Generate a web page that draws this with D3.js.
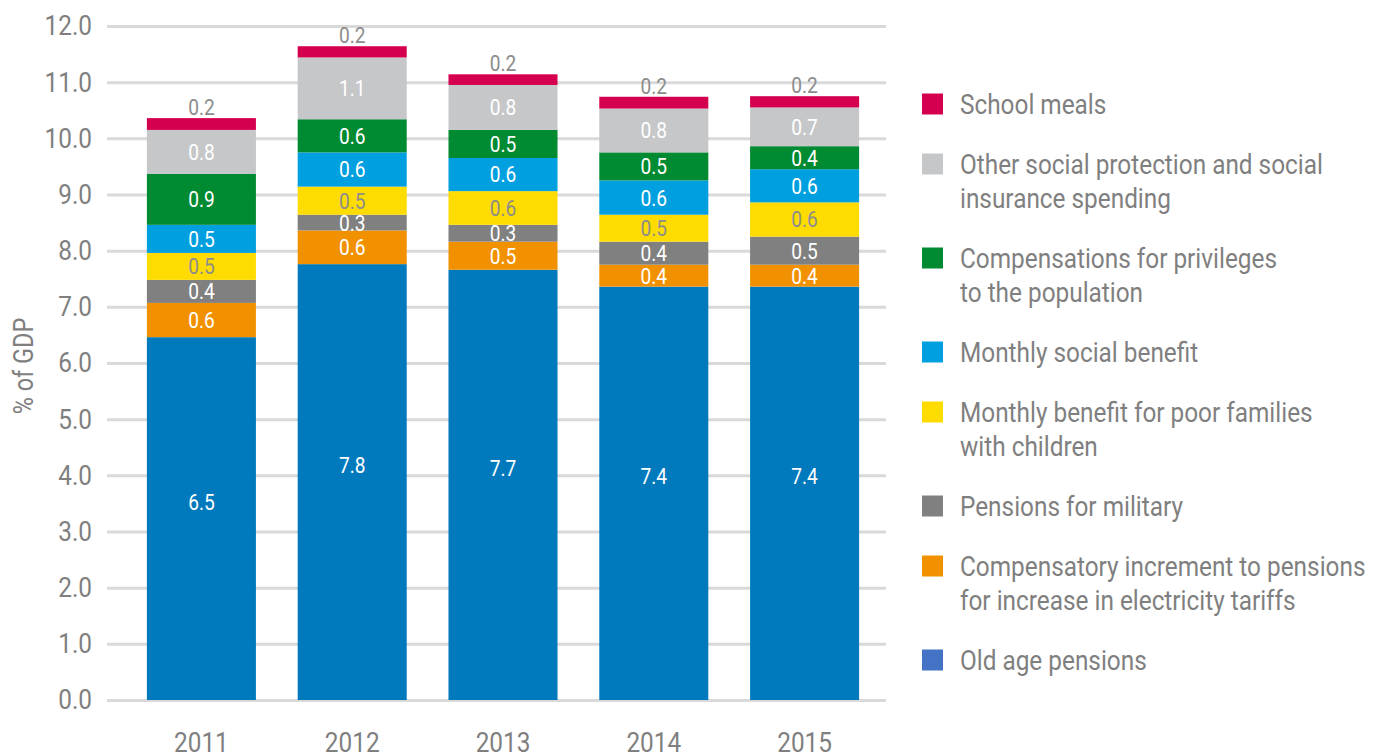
<!DOCTYPE html>
<html>
<head>
<meta charset="utf-8">
<script src="https://cdn.jsdelivr.net/npm/d3@7"></script>
<style>
  body { margin: 0; background: #fff; }
  svg text { font-family: Roboto, "Noto Sans", sans-serif; font-weight: 400; }
</style>
</head>
<body>
<div id="chart"></div>
<script>
// categories
var years = ["2011", "2012", "2013", "2014", "2015"];

// series values, % of GDP (bottom of the stack first)
var oldAge        = [6.46, 7.76, 7.66, 7.36, 7.36];
var compIncrement = [0.61, 0.60, 0.50, 0.39, 0.39];
var military      = [0.41, 0.28, 0.30, 0.41, 0.50];
var poorFamilies  = [0.48, 0.50, 0.60, 0.48, 0.61];
var socialBenefit = [0.50, 0.61, 0.59, 0.61, 0.59];
var privileges    = [0.91, 0.59, 0.50, 0.50, 0.41];
var otherSocial   = [0.78, 1.10, 0.80, 0.78, 0.69];
var schoolMeals   = [0.21, 0.20, 0.19, 0.21, 0.20];

var yTicks = [0, 1, 2, 3, 4, 5, 6, 7, 8, 9, 10, 11, 12];

var series = [
  {key: "oldAge", name: ["Old age pensions"], values: oldAge, color: "#0079BD", swatch: "#4472C4", text: "#fff"},
  {key: "compIncrement", name: ["Compensatory increment to pensions", "for increase in electricity tariffs"], values: compIncrement, color: "#F29100", text: "#fff"},
  {key: "military", name: ["Pensions for military"], values: military, color: "#808080", text: "#fff"},
  {key: "poorFamilies", name: ["Monthly benefit for poor families", "with children"], values: poorFamilies, color: "#FFDC00", text: "#8c8c8c"},
  {key: "socialBenefit", name: ["Monthly social benefit"], values: socialBenefit, color: "#009FE0", text: "#fff"},
  {key: "privileges", name: ["Compensations for privileges", "to the population"], values: privileges, color: "#008A32", text: "#fff"},
  {key: "otherSocial", name: ["Other social protection and social", "insurance spending"], values: otherSocial, color: "#C6C7C9", text: "#fff"},
  {key: "schoolMeals", name: ["School meals"], values: schoolMeals, color: "#D4004F", text: "#8c8c8c"}
];

// build rows for d3.stack
var rows = years.map(function(y, i) {
  var r = {year: y};
  series.forEach(function(s) { r[s.key] = s.values[i]; });
  return r;
});

var width = 1374, height = 756;
var gridLeft = 107, gridRight = 886;
var narrowK = 0.87; // the original uses a condensed face

// squeeze text horizontally around its anchor
function narrow(sel) {
  sel.each(function() {
    var t = d3.select(this);
    var tx = +t.attr("x") || 0, ty = +t.attr("y") || 0;
    t.attr("x", 0).attr("y", 0)
      .attr("transform", "translate(" + tx + "," + ty + ") scale(" + narrowK + ",1)");
  });
}

var svg = d3.select("#chart").append("svg")
  .attr("width", width)
  .attr("height", height);

var x = d3.scaleBand()
  .domain(years)
  .range([126, 880])
  .paddingInner(0.277)
  .paddingOuter(0.1385);

var y = d3.scaleLinear()
  .domain([0, 12])
  .range([700, 26]);

// y axis + gridlines
var yAxis = d3.axisLeft(y)
  .tickValues(yTicks)
  .tickSize(-(gridRight - gridLeft))
  .tickPadding(15)
  .tickFormat(d3.format(".1f"));

var yg = svg.append("g")
  .attr("transform", "translate(" + gridLeft + ",0)")
  .call(yAxis);
yg.select(".domain").remove();
yg.selectAll(".tick line").attr("stroke", "#D9D9D9").attr("stroke-width", 3);
yg.selectAll(".tick text").attr("fill", "#7F7F7F").style("font-size", "28px").call(narrow);

// x axis
var xg = svg.append("g")
  .attr("transform", "translate(0," + y(0) + ")")
  .call(d3.axisBottom(x).tickSize(0).tickPadding(32));
xg.select(".domain").remove();
xg.selectAll(".tick text").attr("fill", "#7F7F7F").style("font-size", "28px").call(narrow);

// axis title
svg.append("text")
  .attr("transform", "translate(33,366) rotate(-90) scale(" + narrowK + ",1)")
  .attr("text-anchor", "middle")
  .attr("fill", "#7F7F7F")
  .style("font-size", "27px")
  .text("% of GDP");

// stacked bars
var stack = d3.stack().keys(series.map(function(s) { return s.key; }));
var stacked = stack(rows);

var layers = svg.selectAll(".layer")
  .data(stacked)
  .enter().append("g")
  .attr("class", "layer")
  .attr("fill", function(d, i) { return series[i].color; });

layers.selectAll("rect")
  .data(function(d) { return d; })
  .enter().append("rect")
  .attr("x", function(d) { return x(d.data.year); })
  .attr("width", x.bandwidth())
  .attr("y", function(d) { return y(d[1]); })
  .attr("height", function(d) { return y(d[0]) - y(d[1]); });

// value labels
stacked.forEach(function(layer, i) {
  var s = series[i];
  svg.selectAll(".lbl-" + s.key)
    .data(layer)
    .enter().append("text")
    .attr("class", "lbl-" + s.key)
    .attr("x", function(d) { return x(d.data.year) + x.bandwidth() / 2; })
    .attr("y", function(d) {
      if (s.key == "schoolMeals") return y(d[1]) - 11;
      var mid = (y(d[0]) + y(d[1])) / 2;
      if (s.key == "oldAge") mid = mid - 17;
      return mid;
    })
    .attr("dy", "0.36em")
    .attr("text-anchor", "middle")
    .attr("fill", s.text)
    .style("font-size", "22px")
    .text(function(d) { return (d[1] - d[0]).toFixed(1); })
    .call(narrow);
});

// legend (top item = top of stack)
var legendItems = series.slice().reverse();
var ly = 104;
legendItems.forEach(function(s) {
  var g = svg.append("g").attr("transform", "translate(922," + ly + ")");
  g.append("rect")
    .attr("x", 0).attr("y", -10.5)
    .attr("width", 21).attr("height", 21)
    .attr("fill", s.swatch || s.color);
  s.name.forEach(function(line, j) {
    g.append("text")
      .attr("x", 38)
      .attr("y", j * 34)
      .attr("dy", "0.36em")
      .attr("fill", "#7F7F7F")
      .style("font-size", "28px")
      .text(line)
      .call(narrow);
  });
  ly += 60 + 34 * (s.name.length - 1);
});
</script>
</body>
</html>
